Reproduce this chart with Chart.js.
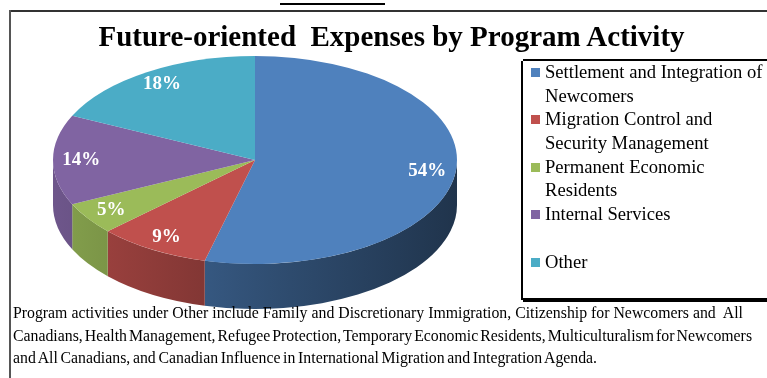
<!DOCTYPE html>
<html><head><meta charset="utf-8">
<script src="https://cdn.jsdelivr.net/npm/chart.js@4.4.1/dist/chart.umd.min.js"></script>
<style>
html,body{margin:0;padding:0;background:#fff;overflow:hidden;}
#wrap{position:relative;width:767px;height:378px;overflow:hidden;font-family:"Liberation Serif","Times New Roman",serif;color:#000;}
#chart{position:absolute;left:0;top:0;}
#topbar{position:absolute;left:280px;top:3px;width:105px;height:2px;background:#000;}
#frameTop{position:absolute;left:9px;top:10px;width:758px;height:1.5px;background:#333;}
#frameLeft{position:absolute;left:9px;top:10px;width:1.5px;height:368px;background:#555;}
#title{position:absolute;left:0;width:783px;top:20px;text-align:center;font-weight:bold;font-size:29px;line-height:32px;white-space:nowrap;}
#lbTop{position:absolute;left:523px;top:59px;width:244px;height:2px;background:#000;}
#lbLeft{position:absolute;left:521px;top:61px;width:2px;height:239px;background:#000;}
#lbBottom{position:absolute;left:523px;top:298px;width:244px;height:4px;background:#000;}
#legend{position:absolute;left:531px;top:60px;width:230px;}
.item{position:relative;height:47.4px;}
.sw{position:absolute;left:0;top:8px;width:9px;height:9px;}
.lt{position:absolute;left:14px;top:0;width:222px;font-family:"Liberation Serif","Times New Roman",serif;font-size:18.6px;line-height:23.7px;white-space:normal;}
#note{position:absolute;left:13px;top:302px;font-size:15.8px;line-height:22.5px;white-space:nowrap;}
#note span{display:block;white-space:pre;}
</style></head>
<body>
<div id="wrap">
<canvas id="chart" width="767" height="378"></canvas>
<div id="topbar"></div>
<div id="frameTop"></div>
<div id="frameLeft"></div>
<div id="title">Future-oriented&nbsp; Expenses by Program Activity</div>
<div id="lbTop"></div><div id="lbLeft"></div><div id="lbBottom"></div>
<div id="legend"></div>
<div id="note"><span data-end="743">Program activities under Other include Family and Discretionary Immigration, Citizenship for Newcomers and  All</span><span data-end="752">Canadians, Health Management, Refugee Protection, Temporary Economic Residents, Multiculturalism for Newcomers</span><span data-end="597">and All Canadians, and Canadian Influence in International Migration and Integration Agenda.</span></div>
</div>
<script>
const categories = ['Settlement and Integration of Newcomers','Migration Control and Security Management','Permanent Economic Residents','Internal Services','Other'];
const shares = [54, 9, 5, 14, 18];
const shareLabels = ['54%','9%','5%','14%','18%'];

const sliceColors = ['#4f81bd','#c0504d','#9bbb59','#8064a2','#4bacc6'];
const CX = 255, CY = 160, RX = 202, RY = 104, DEPTH = 45;

function shade(hex, f){
  const n = parseInt(hex.slice(1),16);
  const r = Math.round(((n>>16)&255)*f), g = Math.round(((n>>8)&255)*f), b = Math.round((n&255)*f);
  return `rgb(${r},${g},${b})`;
}

// legend
const lg = document.getElementById('legend');
categories.forEach((c,i)=>{
  const it = document.createElement('div'); it.className='item';
  const sw = document.createElement('div'); sw.className='sw'; sw.style.background = sliceColors[i];
  const t = document.createElement('div'); t.className='lt'; t.textContent = c;
  it.appendChild(sw); it.appendChild(t); lg.appendChild(it);
});

// fit footnote lines by word spacing
document.querySelectorAll('#note span').forEach(sp=>{
  const inner = document.createElement('span');
  inner.style.display='inline'; inner.textContent = sp.textContent;
  sp.textContent=''; sp.appendChild(inner);
  const w = inner.getBoundingClientRect().width;
  const target = parseFloat(sp.dataset.end) - 13;
  const spaces = (inner.textContent.match(/ /g)||[]).length;
  sp.style.wordSpacing = ((target - w)/spaces).toFixed(2)+'px';
});

const pie3d = {
  id:'pie3d',
  beforeDatasetsDraw(chart){
    const ctx = chart.ctx;
    const meta = chart.getDatasetMeta(0);
    const a = meta.data[0];
    const bx = a.x, by = a.y, r = a.outerRadius;
    meta.data.forEach((arc,i)=>{
      const s = Math.max(arc.startAngle, 0), e = Math.min(arc.endAngle, Math.PI);
      if (s >= e) return;
      const g = ctx.createLinearGradient(CX-RX,0,CX+RX,0);
      g.addColorStop(0, shade(sliceColors[i],0.86));
      g.addColorStop(0.5, shade(sliceColors[i],0.62));
      g.addColorStop(1, shade(sliceColors[i],0.40));
      ctx.save();
      ctx.beginPath();
      ctx.ellipse(CX, CY, RX, RY, 0, s, e, false);
      ctx.ellipse(CX, CY+DEPTH, RX, RY, 0, e, s, true);
      ctx.closePath();
      ctx.fillStyle = g;
      ctx.fill();
      ctx.restore();
    });
    ctx.save();
    ctx.translate(CX, CY);
    ctx.scale(RX/r, RY/r);
    ctx.translate(-bx, -by);
  },
  afterDatasetsDraw(chart){
    const ctx = chart.ctx;
    ctx.restore();
    const meta = chart.getDatasetMeta(0);
    ctx.save();
    ctx.fillStyle = '#fff';
    ctx.font = 'bold 19px "Liberation Serif", "Times New Roman", serif';
    ctx.textAlign = 'center';
    ctx.textBaseline = 'middle';
    meta.data.forEach((arc,i)=>{
      const m = (arc.startAngle + arc.endAngle)/2;
      const f = 0.86;
      ctx.fillText(shareLabels[i], CX + RX*f*Math.cos(m), CY + RY*f*Math.sin(m));
    });
    ctx.restore();
  }
};

new Chart(document.getElementById('chart'), {
  type:'pie',
  data:{ labels: categories, datasets:[{ data: shares, backgroundColor: sliceColors, borderWidth: 0 }] },
  options:{
    responsive:false, animation:false, devicePixelRatio:1,
    radius: 150,
    layout:{ padding:{ left:0, right:257, top:0, bottom:0 } },
    plugins:{ legend:{display:false}, title:{display:false}, tooltip:{enabled:false} }
  },
  plugins:[pie3d]
});
</script>
</body></html>
